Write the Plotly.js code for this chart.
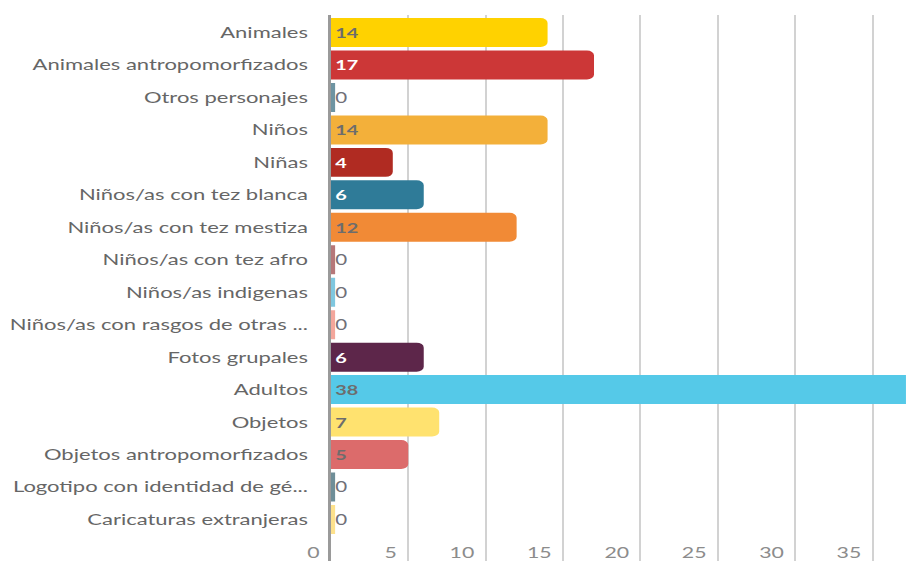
<!DOCTYPE html>
<html><head><meta charset="utf-8">
<script src="https://cdn.plot.ly/plotly-3.0.1.min.js"></script>
<style>
html,body{margin:0;padding:0;background:#fff;overflow:hidden}
#wrap{width:906px;height:561px;overflow:hidden;position:relative}
#chart{width:638px;height:561px;transform:scaleX(1.42);transform-origin:0 0}
</style></head><body><div id="wrap"><div id="chart"></div></div>
<script>
const categories = ['Animales','Animales antropomorfizados','Otros personajes','Niños','Niñas','Niños/as con tez blanca','Niños/as con tez mestiza','Niños/as con tez afro','Niños/as indigenas','Niños/as con rasgos de otras ...','Fotos grupales','Adultos','Objetos','Objetos antropomorfizados','Logotipo con identidad de gé...','Caricaturas extranjeras'];
const values = [14,17,0,14,4,6,12,0,0,0,6,38,7,5,0,0];
const barColors = ['#ffd200','#cc3737','#6e94a2','#f3b03a','#b02b22','#2f7b98','#f18a36','#b67779','#7fc7df','#f3a69b','#5d264a','#55c9e8','#ffe26f','#dc6b6b','#6f8e98','#fde18c'];
const labelColors = ['#6d6d6d','#ffffff','#6d6d6d','#6d6d6d','#ffffff','#ffffff','#6d6d6d','#6d6d6d','#6d6d6d','#6d6d6d','#ffffff','#6d6d6d','#6d6d6d','#6d6d6d','#6d6d6d','#6d6d6d'];
const xTickValues = [0,5,10,15,20,25,30,35];
const xTickLabels = ['0','5','10','15','20','25','30','35'];

const shapes = [];
values.forEach(function(v,i){
  if(v===0){
    shapes.push({type:'rect', xref:'x', yref:'y', xsizemode:'pixel', xanchor:0, x0:0, x1:3,
      y0:i-0.446, y1:i+0.446, fillcolor:barColors[i], line:{width:0}, layer:'below'});
  }
});

const trace = {
  type:'bar', orientation:'h', y:categories, x:values,
  marker:{color:barColors, cornerradius:5, line:{width:0}},
  text:values.map(String),
  textposition:values.map(function(v){return v===0?'outside':'inside';}),
  insidetextanchor:'start',
  textfont:{family:'Lato, sans-serif', size:14, color:labelColors, weight:700},
  insidetextfont:{family:'Lato, sans-serif', size:14, color:labelColors, weight:700},
  outsidetextfont:{family:'Lato, sans-serif', size:14.5, color:'#707078', weight:400},
  constraintext:'none',
  hoverinfo:'none'
};

const layout = {
  width:638, height:561,
  margin:{l:233, r:0, t:15, b:0, pad:0},
  bargap:0.107,
  showlegend:false,
  plot_bgcolor:'#ffffff', paper_bgcolor:'#ffffff',
  font:{family:'Lato, sans-serif', color:'#666666'},
  xaxis:{range:[0,37.15], tickmode:'array', tickvals:xTickValues, ticktext:xTickLabels,
    showgrid:true, gridcolor:'#d2d2d2', gridwidth:1.4, zeroline:false, showline:false,
    ticks:'', ticklabelposition:'inside left', ticklabelshift:-8, ticklabelstandoff:-6, ticklabeloverflow:'allow',
    tickfont:{size:15, color:'#8c8c8c'}, fixedrange:true},
  yaxis:{type:'category', range:[16.28,-0.54], showline:true, linecolor:'#9a9a9a', linewidth:2,
    showgrid:false, zeroline:false, ticks:'outside', ticklen:11, tickcolor:'rgba(0,0,0,0)',
    tickfont:{size:15.5, color:'#666666'}, fixedrange:true},
  shapes:shapes
};

Plotly.newPlot('chart',[trace],layout,{displayModeBar:false, staticPlot:true});
</script>
</body></html>
